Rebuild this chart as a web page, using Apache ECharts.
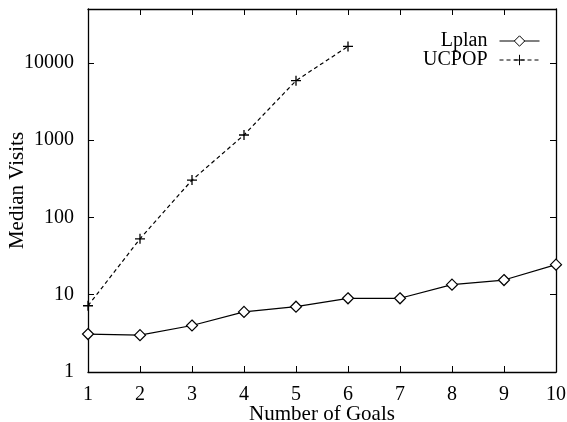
<!DOCTYPE html>
<html>
<head>
<meta charset="utf-8">
<script src="https://cdn.jsdelivr.net/npm/echarts@6/dist/echarts.min.js"></script>
<style>html,body{margin:0;padding:0;background:#fff;}#c{width:567px;height:422px;}</style>
</head>
<body>
<div id="c"></div>
<script>
var goals = [1, 2, 3, 4, 5, 6, 7, 8, 9, 10];
var lplan = [3.1, 3.0, 4.0, 6.0, 7.0, 9.0, 9.0, 13.5, 15.5, 24.5];
var ucpopGoals = [1, 2, 3, 4, 5, 6];
var ucpop = [7.2, 53, 305, 1170, 5900, 16400];
var yTicks = [1, 10, 100, 1000, 10000];

var font = 'Liberation Serif, Times New Roman, serif';
var chart = echarts.init(document.getElementById('c'));
var axisLineStyle = {color: '#000', width: 1.3};
function legendCfg(name, top) {
  return {data: [name], right: 22, top: top, align: 'right', itemWidth: 40, itemHeight: 13, itemGap: 4,
    lineStyle: {width: 1}, itemStyle: {borderWidth: 1},
    textStyle: {fontFamily: font, fontSize: 20, color: '#000', padding: [0, 7, 0, 0]}, selectedMode: false};
}
chart.setOption({
  animation: false,
  backgroundColor: '#fff',
  grid: {left: 88, right: 11, top: 9, bottom: 50, outerBoundsMode: 'none', containLabel: false},
  legend: [legendCfg('Lplan', 26), legendCfg('UCPOP', 45)],
  xAxis: [
    {type: 'value', min: 1, max: 10, interval: 1, position: 'bottom',
     name: 'Number of Goals', nameLocation: 'middle', nameGap: 32, nameMoveOverlap: false,
     nameTextStyle: {fontFamily: font, fontSize: 21, color: '#000'},
     axisLine: {lineStyle: axisLineStyle}, axisTick: {inside: true, length: 6, lineStyle: {color: '#000'}},
     axisLabel: {fontFamily: font, fontSize: 20, color: '#000', margin: 13},
     splitLine: {show: false}},
    {type: 'value', min: 1, max: 10, interval: 1, position: 'top',
     axisLine: {lineStyle: axisLineStyle}, axisTick: {inside: true, length: 6, lineStyle: {color: '#000'}},
     axisLabel: {show: false}, splitLine: {show: false}}
  ],
  yAxis: [
    {type: 'log', logBase: 10, min: 1, max: 50000, position: 'left',
     name: 'Median Visits', nameLocation: 'middle', nameGap: 60, nameMoveOverlap: false,
     nameTextStyle: {fontFamily: font, fontSize: 21, color: '#000'},
     axisLine: {show: true, lineStyle: axisLineStyle}, axisTick: {inside: true, length: 6, lineStyle: {color: '#000'}},
     axisLabel: {fontFamily: font, fontSize: 20, color: '#000', margin: 14,
       formatter: function (v) { return yTicks.indexOf(Math.round(v)) >= 0 && Math.abs(v - Math.round(v)) < 1e-6 ? String(Math.round(v)) : ''; }},
     splitLine: {show: false}},
    {type: 'log', logBase: 10, min: 1, max: 50000, position: 'right',
     axisLine: {show: true, lineStyle: axisLineStyle}, axisTick: {inside: true, length: 6, lineStyle: {color: '#000'}},
     axisLabel: {show: false}, splitLine: {show: false}}
  ],
  series: [
    {name: 'Lplan', type: 'line', xAxisIndex: 0, yAxisIndex: 0,
     data: goals.map(function (g, i) { return [g, lplan[i]]; }),
     symbol: 'diamond', symbolSize: 11, showAllSymbol: true,
     lineStyle: {color: '#000', width: 1.2},
     itemStyle: {color: '#fff', borderColor: '#000', borderWidth: 1.2}},
    {name: 'UCPOP', type: 'line', xAxisIndex: 0, yAxisIndex: 0,
     data: ucpopGoals.map(function (g, i) { return [g, ucpop[i]]; }),
     symbol: 'path://M5,0L5,10M0,5L10,5', symbolSize: 10, showAllSymbol: true,
     lineStyle: {color: '#000', width: 1.2, type: [4, 3]},
     itemStyle: {color: 'none', borderColor: '#000', borderWidth: 1.3}}
  ]
});
</script>
</body>
</html>
